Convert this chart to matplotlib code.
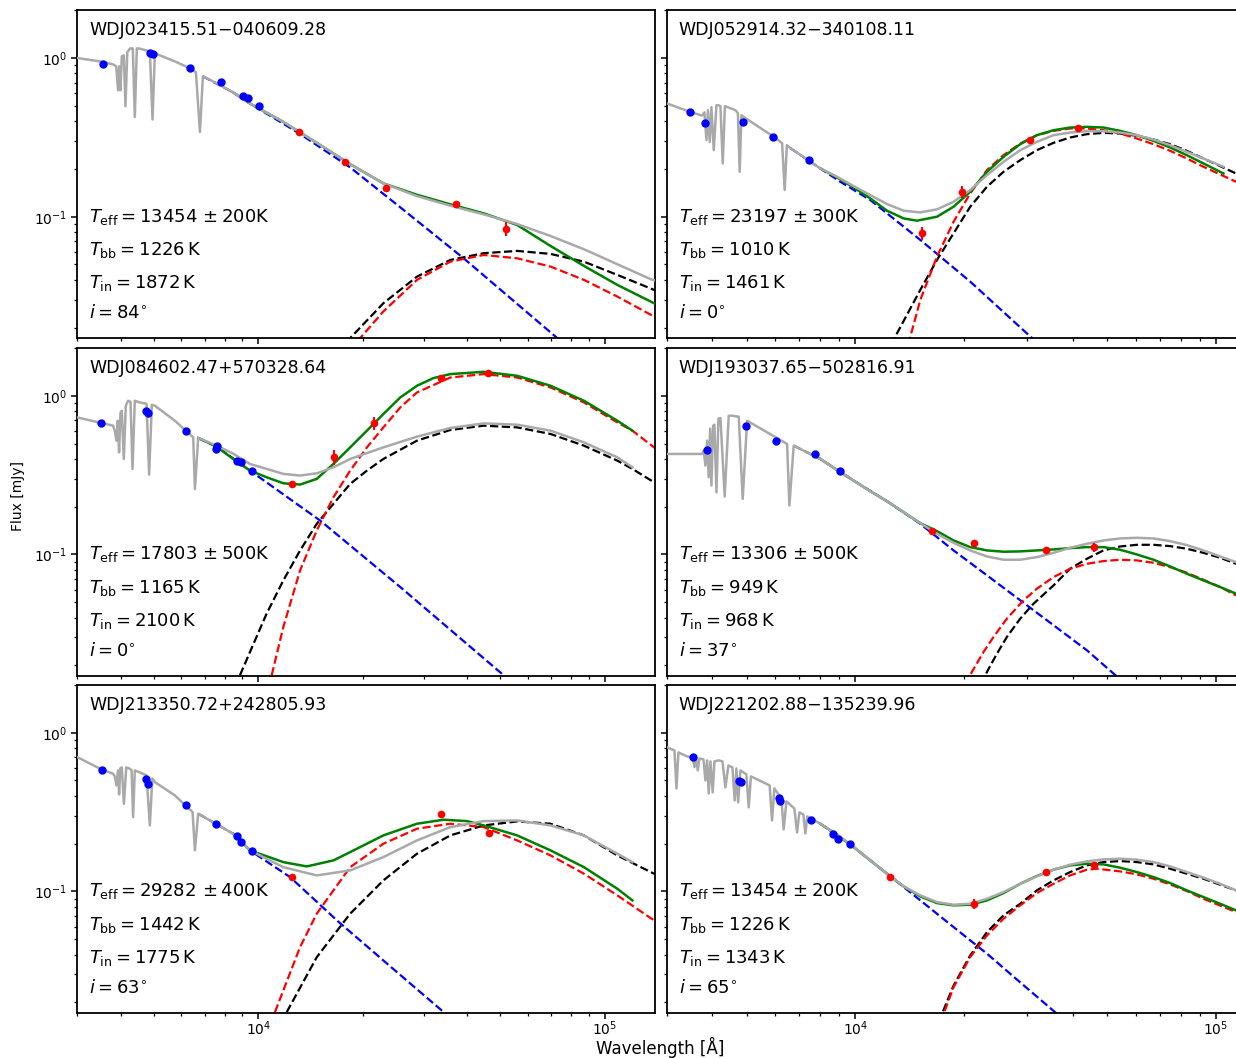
import matplotlib
matplotlib.use("Agg")
import matplotlib.pyplot as plt

# ---- panel labels / fit parameters ----
names = ["WDJ023415.51\u2212040609.28", "WDJ052914.32\u2212340108.11",
         "WDJ084602.47+570328.64", "WDJ193037.65\u2212502816.91",
         "WDJ213350.72+242805.93", "WDJ221202.88\u2212135239.96"]
teff = [13454, 23197, 17803, 13306, 29282, 13454]
teff_err = [200, 300, 500, 500, 400, 200]
t_bb = [1226, 1010, 1165, 949, 1442, 1226]
t_in = [1872, 1461, 2100, 968, 1775, 1343]
incl = [84, 0, 0, 37, 63, 65]

# ---- panel 1 ----
p1_model_w = [3000, 3484, 3799, 3888, 3936, 3967, 3999, 4034, 4088, 4134, 4184, 4255, 4340, 4399, 4458, 4548,
              4733, 4861, 4949, 5026, 5194, 5741, 6344, 6604, 6783, 6918, 7494, 8451, 9462, 11810, 14750, 18420,
              22970, 28720, 35850, 44770, 55910, 69800, 87140, 108800, 135900, 140500]
p1_model_f = [1.00, 0.953, 0.913, 0.887, 0.626, 0.887, 0.626, 1.025, 1.040, 0.497, 1.086, 1.146, 1.151, 0.425,
              1.151, 1.146, 1.118, 1.102, 0.410, 1.070, 1.040, 0.953, 0.861, 0.813, 0.342, 0.767, 0.703, 0.608,
              0.5166, 0.3958, 0.292, 0.2145, 0.1622, 0.1349, 0.1173, 0.1035, 0.0899, 0.0756, 0.0624, 0.0502,
              0.0404, 0.0395]
p1_green_w = [8451, 9462, 11810, 14750, 18420, 22970, 28720, 35850, 44770, 55910, 69800, 87140, 108800, 138900]
p1_green_f = [0.608, 0.5166, 0.3958, 0.292, 0.2145, 0.1622, 0.1375, 0.1197, 0.1050, 0.0887, 0.0654, 0.0490,
              0.0372, 0.0285]
p1_blue_w = [6918, 8451, 9462, 13060, 18420, 25700, 39170, 72980, 82450]
p1_blue_f = [0.767, 0.608, 0.5166, 0.3375, 0.2045, 0.1146, 0.0547, 0.01719, 0.0135]
p1_black_w = [17230, 18420, 22970, 28720, 35850, 44770, 55910, 69800, 87140, 108800, 138900, 140500]
p1_black_f = [0.01395, 0.01719, 0.0285, 0.0419, 0.0534, 0.0589, 0.0609, 0.0583, 0.0521, 0.0430, 0.0346, 0.0341]
p1_red_w = [19300, 19690, 22970, 28720, 35850, 44770, 55910, 69800, 87140, 108800, 138900, 140500]
p1_red_f = [0.01653, 0.01719, 0.0253, 0.0400, 0.0521, 0.0574, 0.0547, 0.0485, 0.0400, 0.0314, 0.0235, 0.0231]
p1_obs_b_w = [3561, 4861, 4949, 6344, 7800, 9050, 9318, 10070]
p1_obs_b_f = [0.922, 1.075, 1.055, 0.865, 0.707, 0.574, 0.563, 0.499]
p1_obs_r_w = [13090, 17850, 23420, 37320, 51820]
p1_obs_r_f = [0.342, 0.2199, 0.1522, 0.1202, 0.0841]
p1_obs_r_e = [0.004, 0.004, 0.003, 0.004, 0.008]

# ---- panel 2 ----
p2_model_w = [3009, 3491, 3762, 3817, 3866, 3903, 3948, 3991, 4051, 4121, 4181, 4227, 4290, 4350, 4412, 4652,
              4726, 4781, 4833, 4905, 5937, 6266, 6370, 6460, 6535, 7998, 8898, 9892, 11000, 12240, 13610, 15140,
              16840, 18720, 20820, 23170, 25750, 28650, 31860, 35430, 39400, 43830, 48730, 54210, 60290, 67040,
              74580, 82960, 92230, 104800]
p2_model_f = [0.517, 0.457, 0.434, 0.455, 0.304, 0.469, 0.296, 0.490, 0.263, 0.504, 0.504, 0.497, 0.2167,
              0.497, 0.492, 0.469, 0.449, 0.192, 0.436, 0.425, 0.319, 0.291, 0.1472, 0.2825, 0.2756, 0.2014,
              0.1785, 0.156, 0.1369, 0.1202, 0.1091, 0.1065, 0.1113, 0.1243, 0.1472, 0.1829, 0.2219, 0.2627,
              0.2964, 0.3265, 0.3393, 0.3459, 0.3459, 0.3393, 0.3265, 0.3066, 0.2824, 0.2564, 0.2328, 0.2064]
p2_green_w = [7998, 8898, 9892, 11000, 12240, 13610, 14820, 16840, 18720, 20820, 23170, 25750, 28650, 31860,
              35430, 39400, 43830, 48730, 54210, 60290, 67040, 74580, 82960, 92230, 104800]
p2_green_f = [0.2014, 0.1768, 0.153, 0.1305, 0.1091, 0.0976, 0.0944, 0.1000, 0.1156, 0.1437, 0.1919, 0.2385,
              0.2865, 0.3265, 0.3508, 0.3648, 0.3683, 0.3648, 0.3475, 0.3265, 0.3007, 0.2731, 0.2443, 0.2166,
              0.1873]
p2_blue_w = [6605, 7998, 9088, 11000, 15140, 20820, 30530, 32540]
p2_blue_f = [0.2704, 0.2014, 0.1661, 0.1274, 0.0714, 0.0390, 0.0176, 0.0156]
p2_black_w = [12580, 12910, 15140, 16840, 18720, 20820, 23170, 25750, 28650, 31860, 35430, 39400, 43830, 48730,
              54210, 60290, 67040, 74580, 82960, 92230, 113600, 120300]
p2_black_f = [0.0156, 0.0176, 0.0346, 0.0534, 0.0786, 0.1156, 0.1545, 0.1919, 0.2273, 0.2627, 0.2921, 0.3157,
              0.3313, 0.3377, 0.3345, 0.3234, 0.3066, 0.2865, 0.2602, 0.2328, 0.1873, 0.1803]
p2_red_w = [14030, 14210, 15140, 16840, 18720, 20820, 23170, 25750, 28650, 31860, 35430, 39400, 43830, 48730,
            54210, 60290, 67040, 74580, 82960, 92230, 113600, 120300]
p2_red_f = [0.0156, 0.0176, 0.0299, 0.0561, 0.0930, 0.1403, 0.1966, 0.2443, 0.2893, 0.3265, 0.3475, 0.3596,
            0.3596, 0.3508, 0.3345, 0.3111, 0.2865, 0.2602, 0.2328, 0.2064, 0.1661, 0.1582]
p2_obs_b_w = [3491, 3841, 4873, 5899, 7441]
p2_obs_b_f = [0.457, 0.390, 0.394, 0.3159, 0.2273]
p2_obs_r_w = [15300, 19750, 30530, 41290]
p2_obs_r_f = [0.0786, 0.1437, 0.304, 0.3628]
p2_obs_r_e = [0.0075, 0.013, 0.01, 0.01]

# ---- panel 3 ----
p3_model_w = [3000, 3524, 3807, 3850, 3894, 3928, 3962, 3999, 4034, 4088, 4143, 4206, 4275, 4332, 4399, 4548,
              4756, 4838, 4926, 5026, 5741, 6486, 6560, 6705, 7580, 8460, 9462, 10570, 11810, 13200, 14750,
              16480, 18420, 22970, 28720, 35850, 44770, 55910, 69800, 87140, 108800, 120300]
p3_model_f = [0.7303, 0.6735, 0.6477, 0.6026, 0.5212, 0.6963, 0.4398, 0.7818, 0.8048, 0.3997, 0.8652, 0.9302,
              0.9168, 0.3459, 0.9302, 0.9076, 0.8906, 0.3184, 0.8779, 0.8652, 0.6963, 0.5467, 0.2589, 0.542,
              0.4847, 0.4317, 0.3718, 0.3459, 0.3218, 0.3141, 0.3245, 0.354, 0.3997, 0.4729, 0.5523, 0.6264,
              0.6696, 0.657, 0.6026, 0.5084, 0.4092, 0.354]
p3_green_w = [6705, 7580, 8460, 9462, 10570, 11810, 13200, 14750, 16480, 18420, 20590, 22970, 25700, 28720,
              32040, 35850, 44770, 55910, 69800, 87140, 108800, 120300]
p3_green_f = [0.542, 0.4778, 0.3997, 0.3375, 0.3064, 0.2808, 0.2756, 0.2993, 0.3718, 0.4729, 0.6026, 0.7672,
              0.9757, 1.156, 1.292, 1.369, 1.415, 1.336, 1.156, 0.9302, 0.6963, 0.6026]
p3_blue_w = [6705, 7580, 9462, 15080, 25700, 51070, 53470]
p3_blue_f = [0.5404, 0.4778, 0.3375, 0.1636, 0.0623, 0.01734, 0.0158]
p3_black_w = [8853, 9462, 10570, 11810, 13200, 14750, 16480, 18420, 20590, 22970, 28720, 35850, 44770, 55910,
              69800, 87140, 108800, 120300, 138900, 140500]
p3_black_f = [0.01734, 0.0243, 0.0424, 0.0686, 0.1059, 0.156, 0.2084, 0.2784, 0.3375, 0.3997, 0.5212, 0.6086,
              0.6477, 0.6318, 0.5742, 0.4847, 0.3902, 0.3459, 0.2849, 0.281]
p3_red_w = [10930, 11810, 13200, 14750, 16480, 18420, 20590, 22970, 25700, 28720, 35850, 44770, 55910, 69800,
            87140, 108800, 120300, 138900, 140500]
p3_red_f = [0.01734, 0.0349, 0.0793, 0.1416, 0.2293, 0.3375, 0.4729, 0.6318, 0.8442, 1.049, 1.303, 1.369, 1.303,
            1.128, 0.9076, 0.6793, 0.6026, 0.4729, 0.465]
p3_obs_b_w = [3524, 4724, 4806, 6166, 7530, 7580, 8660, 8893, 9608]
p3_obs_b_f = [0.6735, 0.7966, 0.7784, 0.6026, 0.4623, 0.48, 0.3902, 0.3805, 0.3375]
p3_obs_r_w = [12490, 16590, 21620, 33700, 46090]
p3_obs_r_f = [0.2784, 0.4092, 0.6696, 1.303, 1.401]
p3_obs_r_e = [0.01, 0.045, 0.065, 0.02, 0.02]

# ---- panel 4 ----
p4_model_w = [3009, 3762, 3800, 3841, 3883, 3923, 3959, 3991, 4035, 4068, 4121, 4173, 4227, 4344, 4457, 4555,
              4751, 4873, 5012, 6469, 6565, 6747, 7998, 8898, 9892, 11000, 12240, 13610, 15140, 16840, 18720,
              20820, 23170, 25750, 28650, 31860, 35430, 39400, 43830, 48730, 54210, 60290, 67040, 74580, 82960,
              92230, 102600, 113600]
p4_model_f = [0.4298, 0.4298, 0.4507, 0.3628, 0.5212, 0.3064, 0.6202, 0.2716, 0.6477, 0.657, 0.2465, 0.7166,
              0.7239, 0.2316, 0.7485, 0.7485, 0.7378, 0.2240, 0.6963, 0.4969, 0.2033, 0.4847, 0.3996, 0.3407,
              0.292, 0.2502, 0.2164, 0.1846, 0.1574, 0.1349, 0.1184, 0.106, 0.0971, 0.0926, 0.0926, 0.0962,
              0.1024, 0.1101, 0.1167, 0.1225, 0.1261, 0.1273, 0.1261, 0.1213, 0.1145, 0.106, 0.0971, 0.0895]
p4_green_w = [7998, 8898, 9892, 11000, 12240, 13610, 15140, 16840, 18720, 20820, 23170, 25750, 28650, 31860,
              35430, 39400, 43830, 48730, 54210, 60290, 67040, 74580, 82960, 92230, 102600, 113600]
p4_green_f = [0.3996, 0.3407, 0.292, 0.2502, 0.2164, 0.1846, 0.1574, 0.1402, 0.1225, 0.1112, 0.106, 0.104,
              0.1045, 0.106, 0.1075, 0.1096, 0.1112, 0.1112, 0.107, 0.1, 0.0926, 0.084, 0.0756, 0.0686, 0.0623,
              0.0566]
p4_blue_w = [6747, 7998, 9892, 12240, 15140, 18720, 23170, 28650, 35430, 43830, 51940, 54210]
p4_blue_f = [0.4847, 0.3996, 0.292, 0.2164, 0.1559, 0.106, 0.0738, 0.0514, 0.0358, 0.0249, 0.01777, 0.01636]
p4_black_w = [22340, 23170, 24690, 26310, 28650, 31180, 35430, 39400, 43830, 48730, 54210, 60290, 67040, 74580,
              82960, 92230, 102600, 113600, 120300]
p4_black_f = [0.01522, 0.0182, 0.0237, 0.0302, 0.0394, 0.0489, 0.0638, 0.0813, 0.0939, 0.106, 0.1122, 0.115,
              0.115, 0.1128, 0.1086, 0.1024, 0.0953, 0.0873, 0.0828]
p4_red_w = [20170, 21050, 22670, 24160, 26310, 29260, 31860, 35430, 39400, 43830, 48730, 54210, 60290, 67040,
            74580, 82960, 92230, 102600, 113600, 120300]
p4_red_f = [0.01522, 0.0182, 0.0243, 0.0302, 0.0394, 0.0514, 0.0608, 0.0720, 0.0813, 0.0873, 0.0908, 0.0926,
            0.0917, 0.0886, 0.0832, 0.0767, 0.0693, 0.0623, 0.0552, 0.0519]
p4_obs_b_w = [3883, 4980, 6041, 7713, 9088]
p4_obs_b_f = [0.4553, 0.641, 0.5212, 0.4298, 0.3375]
p4_obs_r_w = [16310, 21360, 33670, 46010]
p4_obs_r_f = [0.1395, 0.1178, 0.1059, 0.1111]
p4_obs_r_e = [0.003, 0.003, 0.003, 0.007]

# ---- panel 5 ----
p5_model_w = [3000, 3524, 3807, 3850, 3894, 3936, 3962, 3994, 4034, 4091, 4156, 4255, 4306, 4349, 4399, 4548,
              4756, 4861, 4943, 5026, 5741, 6459, 6560, 6705, 8460, 9462, 11810, 14750, 18420, 22970, 28720,
              35850, 44770, 55910, 69800, 87140, 108800, 120300]
p5_model_f = [0.7021, 0.5871, 0.5515, 0.5305, 0.4656, 0.5786, 0.4086, 0.5957, 0.6044, 0.3569, 0.6044, 0.5932,
              0.5786, 0.2938, 0.5786, 0.5622, 0.5381, 0.2605, 0.5152, 0.4884, 0.4027, 0.3160, 0.1813, 0.3087,
              0.2310, 0.1813, 0.1422, 0.1261, 0.1356, 0.1645, 0.2096, 0.2542, 0.2773, 0.2801, 0.2605, 0.2254,
              0.1728, 0.1529]
p5_green_w = [8460, 9462, 11810, 13800, 16480, 18420, 22970, 28720, 34290, 40080, 44770, 55910, 69800, 87140,
              108800, 120300]
p5_green_f = [0.2310, 0.1813, 0.1529, 0.1437, 0.1568, 0.1769, 0.2254, 0.2670, 0.2830, 0.2773, 0.2605, 0.2254,
              0.1813, 0.1422, 0.1040, 0.0878]
p5_blue_w = [6705, 8460, 9462, 12350, 16860, 22970, 34290, 35850]
p5_blue_f = [0.3087, 0.2310, 0.1813, 0.1231, 0.0657, 0.0367, 0.01736, 0.0156]
p5_black_w = [12080, 14750, 18420, 22970, 28720, 35850, 44770, 55910, 69800, 87140, 108800, 138900, 140500]
p5_black_f = [0.01736, 0.0385, 0.0724, 0.1173, 0.1728, 0.2254, 0.2605, 0.2761, 0.2670, 0.2254, 0.1686, 0.1293,
              0.128]
p5_red_w = [11170, 13200, 14750, 16480, 18420, 22970, 28720, 35850, 44770, 55910, 69800, 87140, 108800, 138900,
            140500]
p5_red_f = [0.01736, 0.0446, 0.0724, 0.1015, 0.1422, 0.1998, 0.2483, 0.2670, 0.2542, 0.2096, 0.1686, 0.1293,
            0.0944, 0.0657, 0.065]
p5_obs_b_w = [3538, 4724, 4806, 6179, 7545, 8660, 8930, 9608]
p5_obs_b_f = [0.5847, 0.5077, 0.4772, 0.3482, 0.2643, 0.2231, 0.2045, 0.1805]
p5_obs_r_w = [12490, 33700, 46270]
p5_obs_r_f = [0.1231, 0.3056, 0.2344]
p5_obs_r_e = [0.003, 0.006, 0.008]

# ---- panel 6 ----
p6_model_w = [3009, 3152, 3193, 3233, 3419, 3536, 3581, 3620, 3658, 3698, 3793, 3841, 3883, 3923, 3966, 4024,
              4068, 4181, 4282, 4364, 4448, 4563, 4631, 4681, 4733, 4802, 4990, 5063, 5135, 5788, 5877, 5964,
              6237, 6329, 6441, 6776, 6894, 6996, 7178, 7268, 7362, 7998, 8898, 9892, 11000, 12240, 13610, 15140,
              16840, 18720, 20820, 23170, 25750, 28650, 31860, 35430, 39400, 43830, 48730, 54210, 60290, 67040,
              74580, 82960, 92230, 102600, 113600]
p6_model_f = [0.8079, 0.7738, 0.4457, 0.7517, 0.7090, 0.6990, 0.6069, 0.6889, 0.5786, 0.6889, 0.6790, 0.5005,
              0.6693, 0.4146, 0.6597, 0.4207, 0.6597, 0.6693, 0.6597, 0.4522, 0.6222, 0.6044, 0.3744, 0.5957,
              0.3638, 0.5786, 0.5461, 0.3383, 0.5305, 0.4656, 0.2801, 0.4457, 0.3855, 0.2458, 0.3690, 0.3334,
              0.2353, 0.3147, 0.3056, 0.2319, 0.2969, 0.2669, 0.2276, 0.1903, 0.1568, 0.1293, 0.1075, 0.0944,
              0.0856, 0.0824, 0.0836, 0.0899, 0.099, 0.1117, 0.1244, 0.137, 0.1473, 0.1546, 0.1591, 0.1607,
              0.1584, 0.1531, 0.1438, 0.1324, 0.122, 0.1117, 0.1015]
p6_green_w = [7998, 8898, 9892, 11000, 12240, 13610, 15140, 16840, 18720, 20820, 23170, 25750, 28650, 31860,
              35430, 39400, 43830, 48730, 54210, 60290, 67040, 74580, 82960, 92230, 102600, 113600]
p6_green_f = [0.2669, 0.2276, 0.1903, 0.1568, 0.1293, 0.1075, 0.0930, 0.0844, 0.0817, 0.0824, 0.0878, 0.0976,
              0.1117, 0.125, 0.137, 0.1459, 0.1494, 0.148, 0.141, 0.1324, 0.1232, 0.1129, 0.1015, 0.0921, 0.0836,
              0.0759]
p6_blue_w = [7998, 9892, 12240, 15140, 18720, 23170, 28650, 36210, 38170]
p6_blue_f = [0.2669, 0.1903, 0.1293, 0.0878, 0.0596, 0.0405, 0.0267, 0.01694, 0.01538]
p6_black_w = [17090, 17390, 18720, 20820, 23170, 25750, 28650, 31860, 35430, 39400, 43830, 48730, 54210, 60290,
              67040, 74580, 82960, 92230, 113600, 120300]
p6_black_f = [0.01495, 0.01694, 0.0255, 0.0395, 0.0554, 0.0706, 0.0836, 0.1015, 0.1173, 0.1324, 0.1459, 0.1531,
              0.1553, 0.1531, 0.148, 0.139, 0.1293, 0.1202, 0.1015, 0.0957]
p6_red_w = [17310, 17570, 18720, 20820, 23170, 25750, 28650, 31860, 35430, 39400, 43830, 46720, 54210, 60290,
            67040, 74580, 82960, 92230, 113600, 120300]
p6_red_f = [0.01495, 0.01694, 0.0249, 0.0386, 0.0528, 0.0673, 0.0817, 0.0976, 0.1117, 0.1262, 0.137, 0.139,
            0.1337, 0.128, 0.1202, 0.1107, 0.1005, 0.0899, 0.0741, 0.0696]
p6_obs_b_w = [3543, 4751, 4824, 6158, 6170, 7552, 8672, 8933, 9643]
p6_obs_b_f = [0.7021, 0.4955, 0.4884, 0.3872, 0.3707, 0.2830, 0.2286, 0.2148, 0.1978]
p6_obs_r_w = [12500, 21360, 33670, 46010]
p6_obs_r_f = [0.1231, 0.0836, 0.1323, 0.1458]
p6_obs_r_e = [0.003, 0.006, 0.003, 0.006]


def draw_panel(ax, model, green, blue, black, red, obs_b, obs_r):
    ax.plot(blue[0], blue[1], ls="--", color="blue", lw=1.6, zorder=2)
    ax.plot(black[0], black[1], ls="--", color="black", lw=1.6, zorder=2)
    ax.plot(red[0], red[1], ls="--", color="red", lw=1.6, zorder=2)
    ax.plot(green[0], green[1], color="green", lw=1.8, zorder=3)
    ax.plot(model[0], model[1], color="darkgray", lw=1.8, zorder=4)
    ax.plot(obs_b[0], obs_b[1], "o", color="blue", ms=5, zorder=5)
    ax.errorbar(obs_r[0], obs_r[1], yerr=obs_r[2], fmt="o", color="red", ms=4.5,
                elinewidth=1.5, capsize=0, zorder=6)


panels = [
    (p1_model_w, p1_model_f, p1_green_w, p1_green_f, p1_blue_w, p1_blue_f, p1_black_w, p1_black_f,
     p1_red_w, p1_red_f, p1_obs_b_w, p1_obs_b_f, p1_obs_r_w, p1_obs_r_f, p1_obs_r_e),
    (p2_model_w, p2_model_f, p2_green_w, p2_green_f, p2_blue_w, p2_blue_f, p2_black_w, p2_black_f,
     p2_red_w, p2_red_f, p2_obs_b_w, p2_obs_b_f, p2_obs_r_w, p2_obs_r_f, p2_obs_r_e),
    (p3_model_w, p3_model_f, p3_green_w, p3_green_f, p3_blue_w, p3_blue_f, p3_black_w, p3_black_f,
     p3_red_w, p3_red_f, p3_obs_b_w, p3_obs_b_f, p3_obs_r_w, p3_obs_r_f, p3_obs_r_e),
    (p4_model_w, p4_model_f, p4_green_w, p4_green_f, p4_blue_w, p4_blue_f, p4_black_w, p4_black_f,
     p4_red_w, p4_red_f, p4_obs_b_w, p4_obs_b_f, p4_obs_r_w, p4_obs_r_f, p4_obs_r_e),
    (p5_model_w, p5_model_f, p5_green_w, p5_green_f, p5_blue_w, p5_blue_f, p5_black_w, p5_black_f,
     p5_red_w, p5_red_f, p5_obs_b_w, p5_obs_b_f, p5_obs_r_w, p5_obs_r_f, p5_obs_r_e),
    (p6_model_w, p6_model_f, p6_green_w, p6_green_f, p6_blue_w, p6_blue_f, p6_black_w, p6_black_f,
     p6_red_w, p6_red_f, p6_obs_b_w, p6_obs_b_f, p6_obs_r_w, p6_obs_r_f, p6_obs_r_e),
]

fig = plt.figure(figsize=(12.36, 10.58), dpi=100)

col_x = [0.0625, 0.5394]
col_w = 0.4676
row_y = [0.6805, 0.3613, 0.0428]
row_h = 0.3098
xlims = [(3000, 1.4e5), (3000, 1.2e5)]

for k, d in enumerate(panels):
    row, col = divmod(k, 2)
    ax = fig.add_axes([col_x[col], row_y[row], col_w, row_h])
    ax.set_xscale("log")
    ax.set_yscale("log")
    draw_panel(ax, (d[0], d[1]), (d[2], d[3]), (d[4], d[5]), (d[6], d[7]), (d[8], d[9]),
               (d[10], d[11]), (d[12], d[13], d[14]))
    ax.set_xlim(*xlims[col])
    ax.set_ylim(0.0172, 2.0)
    for s in ax.spines.values():
        s.set_linewidth(1.3)
    ax.tick_params(which="major", length=4, width=1.1, labelsize=10)
    ax.tick_params(which="minor", length=2, width=0.9)
    ax.tick_params(axis="x", pad=0.5)
    ax.tick_params(labelbottom=(row == 2), labelleft=(col == 0))

    ax.text(0.021, 0.939, names[k], transform=ax.transAxes, fontsize=12.5, va="center", ha="left")
    lines = [r"$T_{\rm eff} = %d\,\pm %d$K" % (teff[k], teff_err[k]),
             r"$T_{\rm bb} = %d\,$K" % t_bb[k],
             r"$T_{\rm in} = %d\,$K" % t_in[k],
             r"$i = %d^{\circ}$" % incl[k]]
    for txt, yy in zip(lines, [0.370, 0.268, 0.168, 0.076]):
        ax.text(0.021, yy, txt, transform=ax.transAxes, fontsize=13, va="center", ha="left")

fig.text(0.0148, 0.531, "Flux [mJy]", rotation=90, va="center", ha="center", fontsize=10)
fig.text(0.534, 0.0, "Wavelength [\u00c5]", va="bottom", ha="center", fontsize=12)

fig.savefig("out.png", dpi=100)
plt.close(fig)
